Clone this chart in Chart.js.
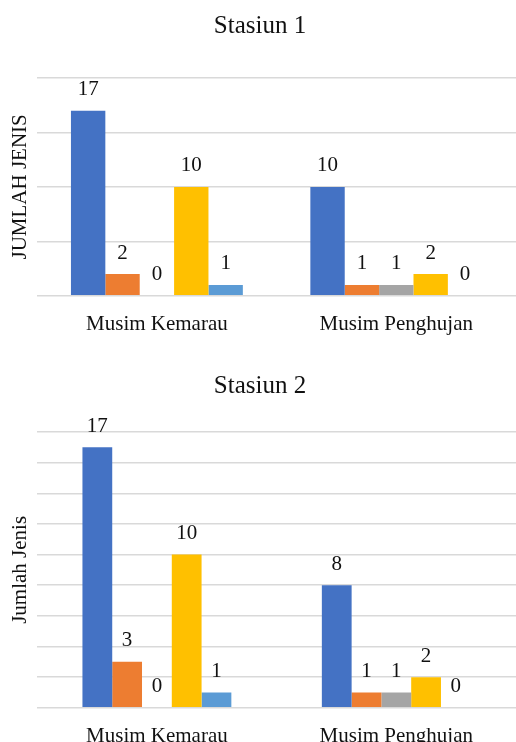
<!DOCTYPE html>
<html>
<head>
<meta charset="utf-8">
<script src="https://cdn.jsdelivr.net/npm/chart.js@4/dist/chart.umd.min.js"></script>
<style>
  html, body { margin: 0; padding: 0; background: #fff; overflow: hidden; width: 516px; height: 742px; }
  canvas { position: absolute; left: 0; }
  #c1 { top: 0; }
  #c2 { top: 360px; }
</style>
</head>
<body>
<canvas id="c1" width="516" height="353"></canvas>
<canvas id="c2" width="516" height="405"></canvas>
<script>
// Seasons on the x axis
const seasons = ['Musim Kemarau', 'Musim Penghujan'];

// Number of species per group, one array per season (5 groups each)
const s1Kemarau   = [17, 2, 0, 10, 1];
const s1Penghujan = [10, 1, 1, 2, 0];
const s2Kemarau   = [17, 3, 0, 10, 1];
const s2Penghujan = [8, 1, 1, 2, 0];

// Group names (legend hidden) and their colours
const groupNames  = ['Kelompok 1', 'Kelompok 2', 'Kelompok 3', 'Kelompok 4', 'Kelompok 5'];
const groupColors = ['#4472C4', '#ED7D31', '#A5A5A5', '#FFC000', '#5B9BD5'];

// Y axis settings per station
const s1Axis = { min: 0, max: 20, step: 5 };
const s2Axis = { min: 0, max: 18, step: 2 };

const FONT = "'Liberation Serif', 'Times New Roman', serif";
const TEXT = '#111111';

// Writes each bar's value above it
const valueLabels = {
  id: 'valueLabels',
  afterDatasetsDraw(chart) {
    const ctx = chart.ctx;
    ctx.save();
    ctx.font = '21px ' + FONT;
    ctx.fillStyle = TEXT;
    ctx.textAlign = 'center';
    ctx.textBaseline = 'alphabetic';
    chart.data.datasets.forEach((ds, i) => {
      chart.getDatasetMeta(i).data.forEach((bar, j) => {
        ctx.fillText(String(ds.data[j]), bar.x, bar.y - 15.5);
      });
    });
    ctx.restore();
  }
};

function buildChart(id, title, yTitle, kemarau, penghujan, axis, titleGap, catPct) {
  const datasets = groupNames.map((name, i) => ({
    label: name,
    data: [kemarau[i], penghujan[i]],
    backgroundColor: groupColors[i],
    borderWidth: 0,
    barPercentage: 1,
    categoryPercentage: catPct
  }));
  return new Chart(document.getElementById(id), {
    type: 'bar',
    data: { labels: seasons, datasets },
    options: {
      responsive: false,
      animation: false,
      devicePixelRatio: 1,
      layout: { padding: { left: 4, right: 0, top: 0, bottom: 0 } },
      plugins: {
        legend: { display: false },
        tooltip: { enabled: false },
        title: {
          display: true,
          text: title,
          color: TEXT,
          font: { family: FONT, size: 25, weight: 'normal' },
          padding: { top: 11, bottom: titleGap }
        }
      },
      scales: {
        x: {
          grid: { display: false, drawTicks: false },
          border: { display: false },
          ticks: { color: TEXT, padding: 16, font: { family: FONT, size: 21 } }
        },
        y: {
          min: axis.min,
          max: axis.max,
          ticks: { stepSize: axis.step, display: false },
          grid: { color: '#D9D9D9', lineWidth: 1.5, drawTicks: false },
          border: { display: false },
          title: {
            display: true,
            text: yTitle,
            color: TEXT,
            font: { family: FONT, size: 21, weight: 'normal' },
            padding: { top: 4, bottom: 4 }
          }
        }
      }
    },
    plugins: [valueLabels]
  });
}

buildChart('c1', 'Stasiun 1', 'JUMLAH JENIS', s1Kemarau, s1Penghujan, s1Axis, 37, 0.718);
buildChart('c2', 'Stasiun 2', 'Jumlah Jenis', s2Kemarau, s2Penghujan, s2Axis, 31, 0.622);
</script>
</body>
</html>
